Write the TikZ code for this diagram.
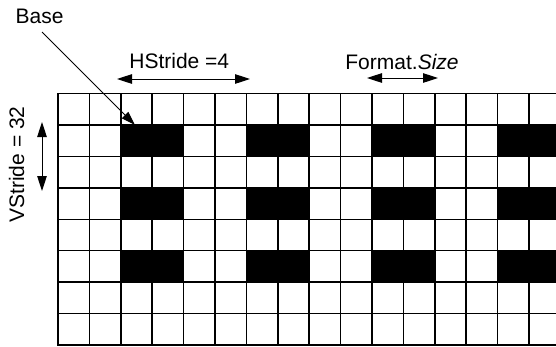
\documentclass[tikz,border=0pt]{standalone}
\usepackage{fontspec}
\setmainfont{Liberation Sans}
\usetikzlibrary{arrows.meta}
\begin{document}
\begin{tikzpicture}[x=1pt,y=-1pt,
  lbl/.style={inner sep=0pt, font=\fontsize{21}{25}\selectfont},
  dim/.style={line width=1pt, {Triangle[length=15pt,width=9.5pt]}-{Triangle[length=15pt,width=9.5pt]}},
  pointer/.style={line width=1pt, -{Triangle[length=14pt,width=9pt]}},
  gridline/.style={line width=1.5pt}]
\useasboundingbox (0,0) rectangle (556,346);
\begin{scope}
\clip (0,0) rectangle (556,346);
\foreach \r in {1,3,5} \foreach \c in {2,6,10,14}
  \fill (58+31.4*\c, 93.7+31.4*\r) rectangle ++(62.8,31.4);
\foreach \k in {0,...,16} \draw[gridline] (58+31.4*\k,93.7) -- (58+31.4*\k,344.9);
\foreach \j in {0,...,8} \draw[gridline] (57.25,93.7+31.4*\j) -- (562,93.7+31.4*\j);
\end{scope}
\node[lbl, anchor=base] (base) at (39.5,23.3) {Base};
\node[lbl, anchor=base] (hs) at (179.3,68.3) {HStride =4};
\node[lbl, anchor=base] (fs) at (402,69) {Format.\textit{Size}};
\node[lbl, rotate=90] (vs) at (16.5,164.5) {VStride = 32};
\coordinate (hsL) at (117,79);
\coordinate (hsR) at (250,79);
\coordinate (fsL) at (367,78);
\coordinate (fsR) at (438,78);
\coordinate (vsT) at (42,122);
\coordinate (vsB) at (42,191);
\coordinate (bstart) at (42,32);
\coordinate (btip) at (135,125);
\draw[dim] (hsL) -- (hsR);
\draw[dim] (fsL) -- (fsR);
\draw[dim] (vsT) -- (vsB);
\draw[pointer] (bstart) -- (btip);
\end{tikzpicture}
\end{document}
